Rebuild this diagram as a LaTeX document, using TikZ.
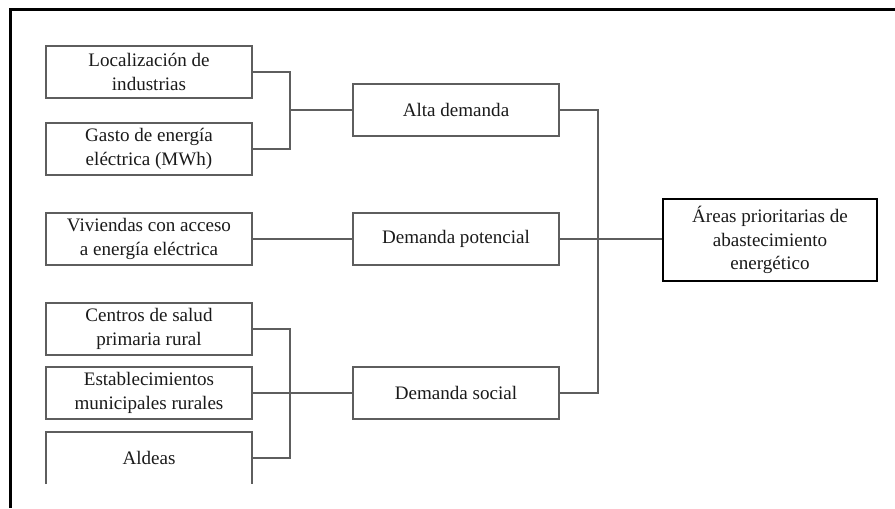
\documentclass[tikz,border=0pt]{standalone}
\usepackage{fontspec}
\setmainfont{Liberation Serif}
\usepackage{tikz}
\usetikzlibrary{positioning,calc}

\definecolor{linegray}{HTML}{5E5E5E}
\definecolor{textgray}{HTML}{1A1A1A}

\begin{document}
\begin{tikzpicture}[x=0.75pt, y=-0.75pt,
    box/.style={draw=linegray, line width=1.1pt, rectangle, minimum width=154.5pt, minimum height=39pt,
        inner sep=0pt, align=center, text=textgray, font=\fontsize{14.3}{17.6}\selectfont},
    goal/.style={box, draw=black, line width=1.4pt, minimum width=160.5pt, minimum height=61.5pt},
    link/.style={draw=linegray, line width=1.1pt}]
    \useasboundingbox (0,0) rectangle (895,508);

    % marco
    \draw[line width=2.3pt] (10.5,508) -- (10.5,9.2) -- (895,9.2);

    % indicadores
    \node[box] (loc) at (149,72) {Localización de\\industrias};
    \node[box] (gasto) at (149,149) {Gasto de energía\\eléctrica (MWh)};
    \node[box] (viv) at (149,239) {Viviendas con acceso\\a energía eléctrica};
    \node[box] (centros) at (149,329) {Centros de salud\\primaria rural};
    \node[box] (estab) at (149,393) {Establecimientos\\municipales rurales};
    \node[box, draw=none, outer sep=0pt] (aldeas) at (149,458) {Aldeas};
    \draw[link] (aldeas.south west) -- (aldeas.north west) -- (aldeas.north east) -- (aldeas.south east);

    % demandas
    \node[box] (alta) at (456,110) {Alta demanda};
    \node[box] (pot) at (456,239) {Demanda potencial};
    \node[box] (social) at (456,393) {Demanda social};

    % resultado
    \node[goal] (areas) at (770,240) {Áreas prioritarias de\\abastecimiento\\energético};

    % conexiones
    \coordinate (j1) at (290,110);
    \coordinate (j2) at (290,393);
    \coordinate (j3) at (598,393);
    \draw[link] (loc.east) -| (j1) |- (gasto.east);
    \draw[link] (j1) -- (alta.west);
    \draw[link] (viv.east) -- (pot.west);
    \draw[link] (centros.east) -| (j2) |- (aldeas.east);
    \draw[link] (estab.east) -- (social.west);
    \draw[link] (alta.east) -| (j3) -- (social.east);
    \draw[link] (pot.east) -- (pot.east -| areas.west);
\end{tikzpicture}
\end{document}
